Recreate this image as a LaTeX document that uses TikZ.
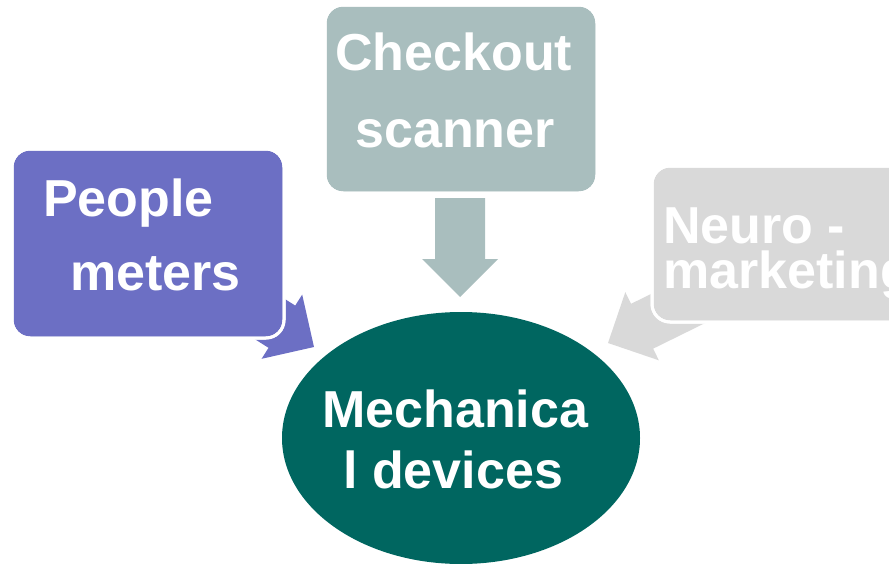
\documentclass[tikz,border=0pt]{standalone}
\usepackage{fontspec}
\setmainfont{Liberation Sans}
\usetikzlibrary{positioning}
\definecolor{peopleColor}{RGB}{108,111,196}
\definecolor{checkoutColor}{RGB}{169,190,190}
\definecolor{neuroColor}{RGB}{217,217,217}
\definecolor{mechColor}{RGB}{0,102,96}
\tikzset{
    blockArrow/.pic={
		\fill[#1] (0,0) -- (-38,38) -- (-38,25) -- (-99,25) -- (-99,-25) -- (-38,-25) -- (-38,-38) -- cycle;
	}
}
\tikzset{
    sourceBox/.style={draw=white, line width=2.25pt, rounded corners=13.5pt},
    boxLabel/.style={text=white, font=\fontsize{39}{47}\selectfont\bfseries, inner sep=0pt, anchor=base west}
}
\begin{document}
\begin{tikzpicture}[x=0.75pt,y=-0.75pt]
			\useasboundingbox (0,0) rectangle (889,564);
			% arrows towards the centre
			\pic[rotate=-90] at (460,297) {blockArrow={checkoutColor}};
			\pic[rotate=-32.3] at (314,347) {blockArrow={peopleColor}};
			\pic[rotate=-153.8] at (608,343) {blockArrow={neuroColor}};
			% boxes
			\fill[sourceBox, fill=peopleColor] (12,149) rectangle (284,338);
			\fill[sourceBox, fill=checkoutColor] (325,5) rectangle (597,193);
			\fill[sourceBox, fill=neuroColor] (652,166) rectangle (935,322);
			\draw[sourceBox] (12,149) rectangle (284,338);
			\draw[sourceBox] (325,5) rectangle (597,193);
			\draw[sourceBox] (652,166) rectangle (935,322);
			\fill[mechColor] (461,438) ellipse [x radius=179, y radius=126];
			% labels
			\node[boxLabel] (people1) at (43,216) {People};
			\node[boxLabel] (people2) at (70,290) {meters};
			\node[boxLabel] (checkout1) at (335,70) {Checkout};
			\node[boxLabel] (checkout2) at (355,147) {scanner};
			\node[boxLabel] (neuro1) at (663,243) {Neuro -};
			\node[boxLabel] (neuro2) at (663,288) {marketing};
			\node[boxLabel] (mech1) at (322,427) {Mechanica};
			\node[boxLabel] (mech2) at (343,488) {l devices};
		\end{tikzpicture}
\end{document}
